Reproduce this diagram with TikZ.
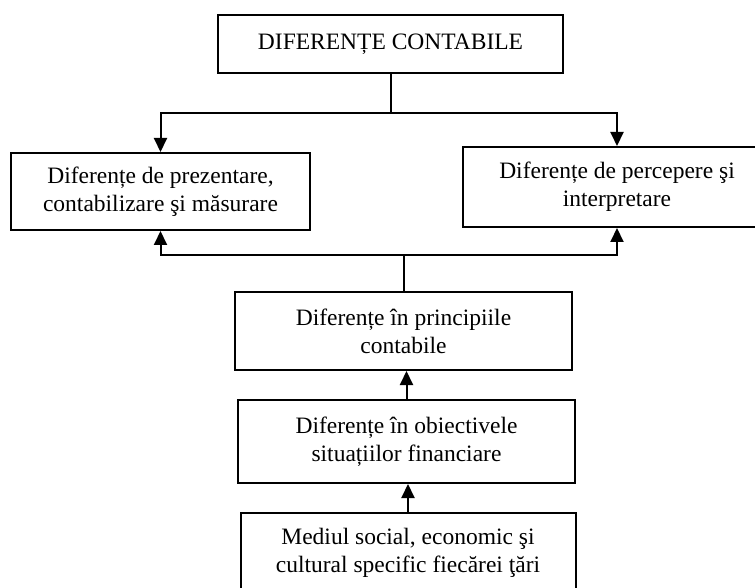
\documentclass[tikz,border=0pt]{standalone}
\usepackage{fontspec}
\setmainfont{Liberation Serif}
\usetikzlibrary{arrows.meta,positioning}

\begin{document}
\begin{tikzpicture}[
  x=1pt,y=-1pt,
  box/.style={draw=black,line width=2pt,align=center,inner sep=0pt,
              font=\fontsize{23.5}{28}\selectfont},
  link/.style={draw=black,line width=2pt},
  arrow/.style={link,-{Triangle[length=14pt,width=13pt]}}
]
\useasboundingbox (0,0) rectangle (755,588);
\clip (0,0) rectangle (755,588);

\node[box,minimum width=345,minimum height=58] (top) at (390.5,44)
  {DIFERENȚE CONTABILE};
\node[box,minimum width=299,minimum height=77] (left) at (160.5,191.5)
  {Diferențe de prezentare,\\contabilizare şi măsurare};
\node[box,minimum width=308,minimum height=80] (right) at (617,187)
  {Diferențe de percepere şi\\interpretare};
\node[box,minimum width=337,minimum height=78] (princ) at (403.5,331)
  {Diferențe în principiile\\contabile};
\node[box,minimum width=337,minimum height=83] (obj) at (406.5,441.5)
  {Diferențe în obiectivele\\situațiilor financiare};
\node[box,minimum width=335,minimum height=80] (base) at (408,553)
  {Mediul social, economic şi\\cultural specific fiecărei ţări};

\path (top.south) ++(0,39) coordinate (split);
\draw[link] (top.south) -- (split);
\draw[arrow] (split) -| (left.north);
\draw[arrow] (split) -| (right.north);

\path (princ.north) ++(0,-36) coordinate (merge);
\draw[link] (princ.north) -- (merge);
\draw[arrow] (merge) -| (left.south);
\draw[arrow] (merge) -| (right.south);

\draw[arrow] (obj.north) -- (obj.north |- princ.south);
\draw[arrow] (base.north) -- (base.north |- obj.south);
\end{tikzpicture}
\end{document}
